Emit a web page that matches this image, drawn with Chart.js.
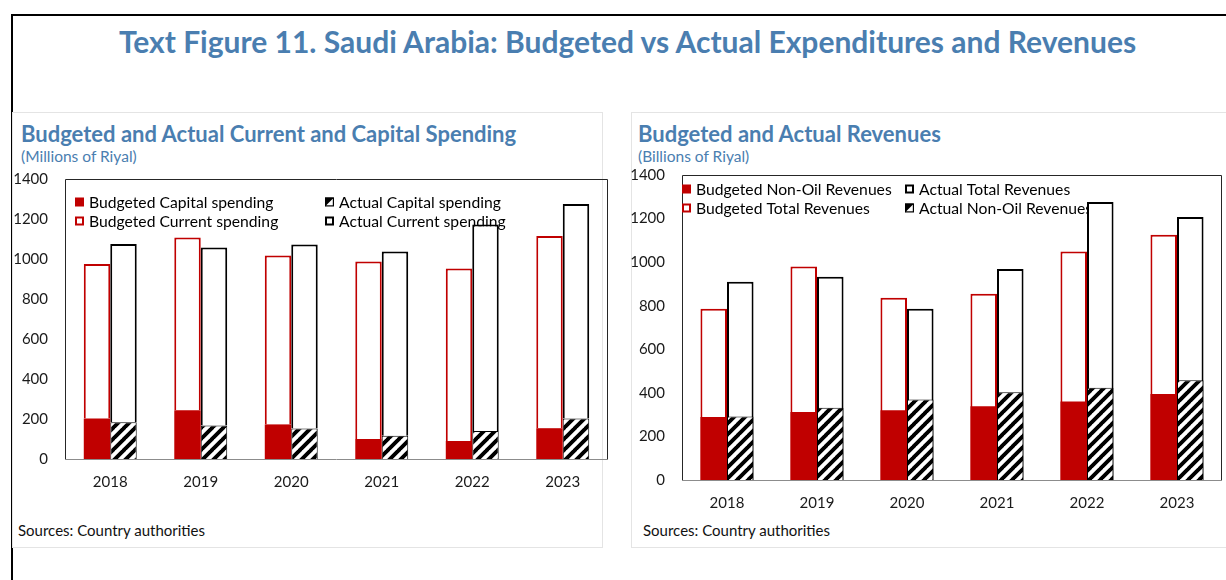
<!DOCTYPE html>
<html lang="en">
<head>
<meta charset="UTF-8">
<title>Saudi Arabia: Budgeted vs Actual Expenditures and Revenues</title>
<script src="https://cdn.jsdelivr.net/npm/chart.js"></script>
<style>
    body { margin: 0; width: 1226px; height: 580px; overflow: hidden; background: #fff; position: relative; font-family: Lato, "Open Sans", sans-serif; }
    #frame { position: absolute; left: 11px; top: 14px; width: 1300px; height: 600px; border-left: 2px solid #000; border-top: 2px solid #000; }
    .panel { position: absolute; top: 112px; height: 434px; border: 1px solid #e4e4e4; }
    .txt { position: absolute; white-space: nowrap; }
    #title { left: 0; width: 1255px; top: 23px; text-align: center; font-size: 30px; line-height: 36px; font-weight: bold; color: #4a7eb0; }
    .ptitle { font-size: 22px; line-height: 26px; font-weight: bold; color: #4a7eb0; top: 121px; }
    .psub { font-size: 15.5px; line-height: 19px; color: #4a7eb0; top: 147px; }
    .src { font-size: 15px; line-height: 18px; color: #111; top: 521px; }
    canvas { position: absolute; }
</style>
</head>
<body>
    <div id="frame"></div>
    <div class="panel" style="left:12px; width:589px;"></div>
    <div class="panel" style="left:631px; width:620px;"></div>

    <div id="title" class="txt">Text Figure 11. Saudi Arabia: Budgeted vs Actual Expenditures and Revenues</div>

    <div class="txt ptitle" style="left:21px;">Budgeted and Actual Current and Capital Spending</div>
    <div class="txt psub" style="left:21px;">(Millions of Riyal)</div>
    <div class="txt src" style="left:18px;">Sources: Country authorities</div>

    <div class="txt ptitle" style="left:638px;">Budgeted and Actual Revenues</div>
    <div class="txt psub" style="left:638px;">(Billions of Riyal)</div>
    <div class="txt src" style="left:643px;">Sources: Country authorities</div>

    <canvas id="spendChart" width="598" height="347" style="left:14px; top:153px;"></canvas>
    <canvas id="revChart" width="598" height="367" style="left:628px; top:149px;"></canvas>

    <script>
        // categories and axis range
        const years = ['2018', '2019', '2020', '2021', '2022', '2023'];
        const yMax = 1400;
        const yStep = 200;

        // spending (stacked: capital + current)
        const budCapital = [203, 244, 173, 100, 90, 154];
        const budCurrent = [772, 864, 845, 887, 862, 961];
        const actCapital = [184, 168, 153, 116, 140, 203];
        const actCurrent = [891, 890, 920, 921, 1033, 1072];

        // revenues (non-oil drawn over total)
        const budNonOil = [289, 312, 320, 338, 360, 395];
        const budTotal = [786, 980, 836, 855, 1049, 1126];
        const actNonOil = [292, 332, 369, 403, 423, 458];
        const actTotal = [910, 933, 786, 969, 1276, 1207];

        const RED = '#c00000';

        function hatch() {
            const n = 11;
            const t = document.createElement('canvas');
            t.width = t.height = n;
            const c = t.getContext('2d');
            c.fillStyle = '#fff';
            c.fillRect(0, 0, n, n);
            c.strokeStyle = '#000';
            c.lineWidth = 3.9;
            c.beginPath();
            [-n, 0, n].forEach(o => { c.moveTo(o - 1, n + 1); c.lineTo(o + n + 1, -1); });
            c.stroke();
            return c.createPattern(t, 'repeat');
        }
        const stripes = hatch();

        function drawMarker(ctx, kind, color, x, y, s) {
            ctx.save();
            if (kind === 'fill') {
                ctx.fillStyle = color;
                ctx.fillRect(x, y, s, s);
            } else if (kind === 'outline') {
                ctx.strokeStyle = color;
                ctx.lineWidth = 2;
                ctx.strokeRect(x + 1, y + 1, s - 2, s - 2);
            } else {
                ctx.strokeStyle = '#000';
                ctx.lineWidth = 1.2;
                ctx.strokeRect(x + 0.6, y + 0.6, s - 1.2, s - 1.2);
                ctx.fillStyle = '#000';
                ctx.beginPath();
                ctx.moveTo(x, y); ctx.lineTo(x + s, y); ctx.lineTo(x, y + s);
                ctx.closePath();
                ctx.fill();
            }
            ctx.restore();
        }

        // box round the plot area, grey base line
        const plotFrame = {
            id: 'plotFrame',
            beforeDatasetsDraw(chart) {
                const {ctx, chartArea: a} = chart;
                ctx.save();
                ctx.lineWidth = 1;
                ctx.strokeStyle = '#262626';
                ctx.beginPath();
                ctx.moveTo(a.left + 0.5, a.bottom);
                ctx.lineTo(a.left + 0.5, a.top + 0.5);
                ctx.lineTo(a.right - 0.5, a.top + 0.5);
                ctx.lineTo(a.right - 0.5, a.bottom);
                ctx.stroke();
                ctx.strokeStyle = '#8c8c8c';
                ctx.beginPath();
                ctx.moveTo(a.left, a.bottom + 0.5);
                ctx.lineTo(a.right, a.bottom + 0.5);
                ctx.stroke();
                ctx.restore();
            }
        };

        // two-column legend inside the plot, drawn under the bars
        const boxLegend = {
            id: 'boxLegend',
            beforeDatasetsDraw(chart, args, opts) {
                const {ctx, chartArea: a} = chart;
                ctx.save();
                ctx.font = '15.7px Lato';
                ctx.textBaseline = 'middle';
                opts.items.forEach((di, k) => {
                    const ds = chart.data.datasets[di];
                    const x = a.left + opts.cols[Math.floor(k / 2)];
                    const y = a.top + opts.rows[k % 2];
                    drawMarker(ctx, ds.marker, ds.markerColor, x, y - 4.5, 9);
                    ctx.fillStyle = '#000';
                    ctx.fillText(ds.label, x + 14, y + 1);
                });
                ctx.restore();
            }
        };

        function scales(yStacked, yWidth, xHeight) {
            return {
                x: {
                    stacked: true,
                    grid: { display: false, drawTicks: false },
                    border: { display: false },
                    ticks: { font: { family: 'Lato', size: 15 }, color: '#1a1a1a', padding: 14 },
                    afterFit(s) { s.height = xHeight; }
                },
                y: {
                    stacked: yStacked,
                    min: 0,
                    max: yMax,
                    grid: { display: false, drawTicks: false },
                    border: { display: false },
                    ticks: {
                        stepSize: yStep,
                        font: { family: 'Lato', size: 15 },
                        color: '#1a1a1a',
                        padding: 17,
                        callback: v => String(v)
                    },
                    afterFit(s) { s.width = yWidth; }
                }
            };
        }

        new Chart(document.getElementById('spendChart'), {
            type: 'bar',
            data: {
                labels: years,
                datasets: [
                    { label: 'Budgeted Capital spending', data: budCapital, stack: 'bud', backgroundColor: RED, borderWidth: 0, marker: 'fill', markerColor: RED },
                    { label: 'Budgeted Current spending', data: budCurrent, stack: 'bud', backgroundColor: '#fff', borderColor: RED, borderWidth: 2, marker: 'outline', markerColor: RED },
                    { label: 'Actual Capital spending', data: actCapital, stack: 'act', backgroundColor: stripes, borderColor: '#000', borderWidth: 1, marker: 'hatch' },
                    { label: 'Actual Current spending', data: actCurrent, stack: 'act', backgroundColor: '#fff', borderColor: '#000', borderWidth: 2, marker: 'outline', markerColor: '#000' }
                ]
            },
            options: {
                responsive: false,
                animation: false,
                categoryPercentage: 0.585,
                barPercentage: 1,
                layout: { padding: { top: 3, right: 4, left: 0, bottom: 0 } },
                scales: scales(true, 51, 41),
                plugins: {
                    legend: { display: false },
                    tooltip: { enabled: false },
                    boxLegend: { items: [0, 1, 2, 3], cols: [10, 260], rows: [23, 42] }
                }
            },
            plugins: [plotFrame, boxLegend]
        });

        new Chart(document.getElementById('revChart'), {
            type: 'bar',
            data: {
                labels: years,
                datasets: [
                    { label: 'Budgeted Non-Oil Revenues', data: budNonOil, stack: 'bud', backgroundColor: RED, borderWidth: 0, marker: 'fill', markerColor: RED },
                    { label: 'Actual Non-Oil Revenues', data: actNonOil, stack: 'act', backgroundColor: stripes, borderColor: '#000', borderWidth: 1, marker: 'hatch' },
                    { label: 'Budgeted Total Revenues', data: budTotal, stack: 'bud', backgroundColor: '#fff', borderColor: RED, borderWidth: 2, marker: 'outline', markerColor: RED },
                    { label: 'Actual Total Revenues', data: actTotal, stack: 'act', backgroundColor: '#fff', borderColor: '#000', borderWidth: 2, marker: 'outline', markerColor: '#000' }
                ]
            },
            options: {
                responsive: false,
                animation: false,
                categoryPercentage: 0.59,
                barPercentage: 1,
                layout: { padding: { top: 4, right: 4, left: 0, bottom: 0 } },
                scales: scales(false, 54, 36),
                plugins: {
                    legend: { display: false },
                    tooltip: { enabled: false },
                    boxLegend: { items: [0, 2, 3, 1], cols: [0, 223], rows: [14, 33] }
                }
            },
            plugins: [plotFrame, boxLegend]
        });
    </script>
</body>
</html>
